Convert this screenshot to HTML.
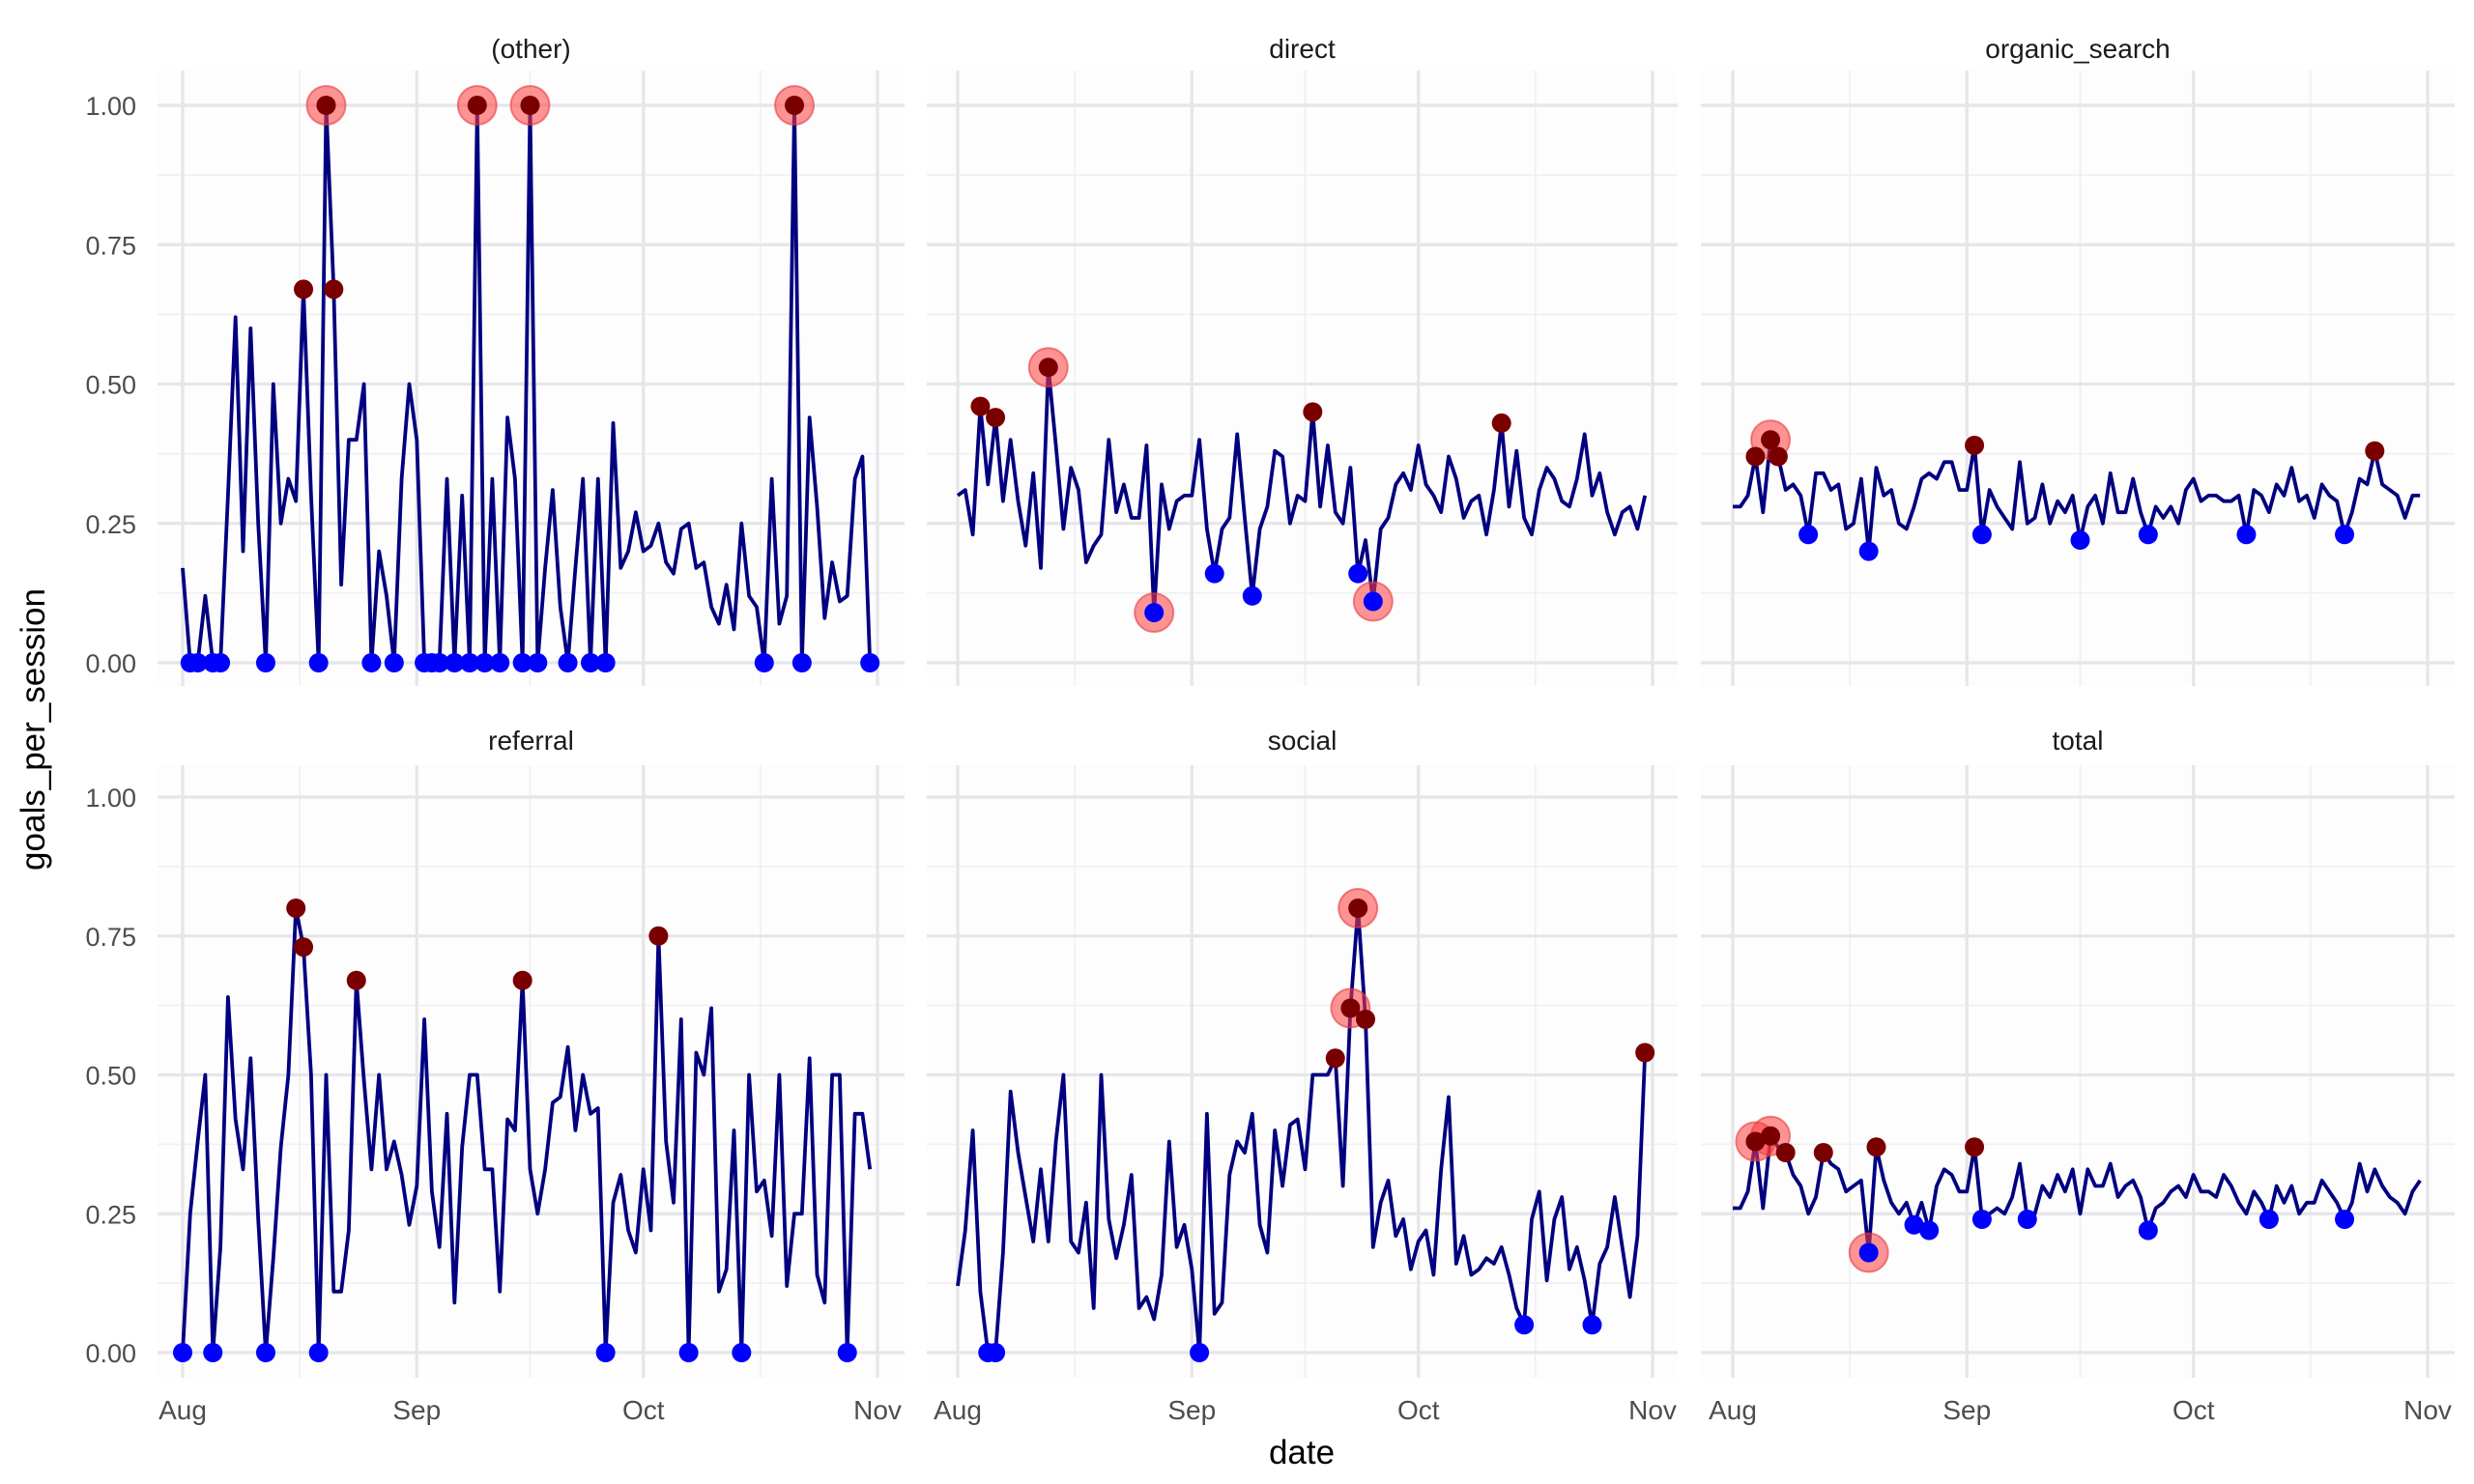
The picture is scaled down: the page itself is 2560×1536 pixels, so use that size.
<!DOCTYPE html>
<html><head><meta charset="utf-8"><style>
html,body{margin:0;padding:0;background:#fff;}
svg{display:block;font-family:"Liberation Sans",sans-serif;}
</style></head><body>
<svg id="chart" width="2560" height="1536" viewBox="0 0 2560 1536" xmlns="http://www.w3.org/2000/svg">
<rect x="0" y="0" width="2560" height="1536" fill="#ffffff"/>
<g id="panels"></g>
<text x="0" y="0" transform="translate(46,755) rotate(-90)" text-anchor="middle" font-size="35" fill="#000">goals_per_session</text>
<text x="1347" y="1515" text-anchor="middle" font-size="35" fill="#000">date</text>
</svg>
<script>
const panelNames = ["(other)","direct","organic_search","referral","social","total"];
const xTickLabels = ["Aug","Sep","Oct","Nov"];
const xTickDays = [0,31,61,92];
const yTicks = [0,0.25,0.5,0.75,1];
const yTickLabels = ["0.00","0.25","0.50","0.75","1.00"];

const valsOther = [0.17,0,0,0.12,0,0,0.3,0.62,0.2,0.6,0.25,0,0.5,0.25,0.33,0.29,0.67,0.3,0,1.0,0.67,0.14,0.4,0.4,0.5,0,0.2,0.12,0,0.33,0.5,0.4,0,0,0,0.33,0,0.3,0,1.0,0,0.33,0,0.44,0.33,0,1.0,0,0.17,0.31,0.1,0,0.17,0.33,0,0.33,0,0.43,0.17,0.2,0.27,0.2,0.21,0.25,0.18,0.16,0.24,0.25,0.17,0.18,0.1,0.07,0.14,0.06,0.25,0.12,0.1,0,0.33,0.07,0.12,1.0,0,0.44,0.28,0.08,0.18,0.11,0.12,0.33,0.37,0];
const valsDirect = [0.30,0.31,0.23,0.46,0.32,0.44,0.29,0.40,0.29,0.21,0.34,0.17,0.53,0.39,0.24,0.35,0.31,0.18,0.21,0.23,0.40,0.27,0.32,0.26,0.26,0.39,0.09,0.32,0.24,0.29,0.30,0.30,0.40,0.24,0.16,0.24,0.26,0.41,0.26,0.12,0.24,0.28,0.38,0.37,0.25,0.30,0.29,0.45,0.28,0.39,0.27,0.25,0.35,0.16,0.22,0.11,0.24,0.26,0.32,0.34,0.31,0.39,0.32,0.30,0.27,0.37,0.33,0.26,0.29,0.30,0.23,0.31,0.43,0.28,0.38,0.26,0.23,0.31,0.35,0.33,0.29,0.28,0.33,0.41,0.30,0.34,0.27,0.23,0.27,0.28,0.24,0.30];
const valsOrganic = [0.28,0.28,0.30,0.37,0.27,0.40,0.37,0.31,0.32,0.30,0.23,0.34,0.34,0.31,0.32,0.24,0.25,0.33,0.20,0.35,0.30,0.31,0.25,0.24,0.28,0.33,0.34,0.33,0.36,0.36,0.31,0.31,0.39,0.23,0.31,0.28,0.26,0.24,0.36,0.25,0.26,0.32,0.25,0.29,0.27,0.30,0.22,0.28,0.30,0.25,0.34,0.27,0.27,0.33,0.27,0.23,0.28,0.26,0.28,0.25,0.31,0.33,0.29,0.30,0.30,0.29,0.29,0.30,0.23,0.31,0.30,0.27,0.32,0.30,0.35,0.29,0.30,0.26,0.32,0.30,0.29,0.23,0.27,0.33,0.32,0.38,0.32,0.31,0.30,0.26,0.30,0.30];
const valsReferral = [0,0.25,0.38,0.50,0,0.19,0.64,0.42,0.33,0.53,0.24,0,0.17,0.37,0.50,0.80,0.73,0.50,0,0.50,0.11,0.11,0.22,0.67,0.49,0.33,0.50,0.33,0.38,0.32,0.23,0.30,0.60,0.29,0.19,0.43,0.09,0.37,0.50,0.50,0.33,0.33,0.11,0.42,0.40,0.67,0.33,0.25,0.33,0.45,0.46,0.55,0.40,0.50,0.43,0.44,0,0.27,0.32,0.22,0.18,0.33,0.22,0.75,0.38,0.27,0.60,0,0.54,0.50,0.62,0.11,0.15,0.40,0,0.50,0.29,0.31,0.21,0.50,0.12,0.25,0.25,0.53,0.14,0.09,0.50,0.50,0,0.43,0.43,0.33];
const valsSocial = [0.12,0.22,0.40,0.11,0,0,0.18,0.47,0.36,0.28,0.20,0.33,0.20,0.38,0.50,0.20,0.18,0.27,0.08,0.50,0.24,0.17,0.23,0.32,0.08,0.10,0.06,0.14,0.38,0.19,0.23,0.15,0,0.43,0.07,0.09,0.32,0.38,0.36,0.43,0.23,0.18,0.40,0.30,0.41,0.42,0.33,0.50,0.50,0.50,0.53,0.30,0.62,0.80,0.60,0.19,0.27,0.31,0.21,0.24,0.15,0.20,0.22,0.14,0.33,0.46,0.16,0.21,0.14,0.15,0.17,0.16,0.19,0.14,0.08,0.05,0.24,0.29,0.13,0.24,0.28,0.15,0.19,0.13,0.05,0.16,0.19,0.28,0.19,0.10,0.21,0.54];
const valsTotal = [0.26,0.26,0.29,0.38,0.26,0.39,0.37,0.36,0.32,0.30,0.25,0.28,0.36,0.34,0.33,0.29,0.30,0.31,0.18,0.37,0.31,0.27,0.25,0.27,0.23,0.27,0.22,0.30,0.33,0.32,0.29,0.29,0.37,0.24,0.25,0.26,0.25,0.28,0.34,0.24,0.25,0.30,0.28,0.32,0.29,0.33,0.25,0.33,0.30,0.30,0.34,0.28,0.30,0.31,0.28,0.22,0.26,0.27,0.29,0.30,0.28,0.32,0.29,0.29,0.28,0.32,0.30,0.27,0.25,0.29,0.27,0.24,0.30,0.27,0.30,0.25,0.27,0.27,0.31,0.29,0.27,0.24,0.27,0.34,0.29,0.33,0.30,0.28,0.27,0.25,0.29,0.31];

const highOther=[16,19,20,39,46,81], lowOther=[1,2,4,5,11,18,25,28,32,33,34,36,38,40,42,45,47,51,54,56,77,82,91], haloOther=[19,39,46,81];
const highDirect=[3,5,12,47,72], lowDirect=[26,34,39,53,55], haloDirect=[12,26,55];
const highOrganic=[3,5,6,32,85], lowOrganic=[10,18,33,46,55,68,81], haloOrganic=[5];
const highReferral=[15,16,23,45,63], lowReferral=[0,4,11,18,56,67,74,88], haloReferral=[];
const highSocial=[50,52,53,54,91], lowSocial=[4,5,32,75,84], haloSocial=[52,53];
const highTotal=[3,5,7,12,19,32], lowTotal=[18,24,26,33,39,55,71,81], haloTotal=[3,5,18];

const series=[valsOther,valsDirect,valsOrganic,valsReferral,valsSocial,valsTotal];
const highs=[highOther,highDirect,highOrganic,highReferral,highSocial,highTotal];
const lows=[lowOther,lowDirect,lowOrganic,lowReferral,lowSocial,lowTotal];
const halos=[haloOther,haloDirect,haloOrganic,haloReferral,haloSocial,haloTotal];

const NS="http://www.w3.org/2000/svg";
const root=document.getElementById("panels");
const colX0=[189,991,1793], colW=719;
const bgX=[163,959,1760], bgW=[773,777,780];
const rowY1=[109,825], rowY0=[686,1400];
const bgY=[73,792], bgH=[637,634];
function mk(tag,attrs,parent){const e=document.createElementNS(NS,tag);for(const k in attrs)e.setAttribute(k,attrs[k]);parent.appendChild(e);return e;}

for(let p=0;p<6;p++){
  const c=p%3, r=Math.floor(p/3);
  const xs=d=>colX0[c]+d/92*colW;
  const ys=v=>rowY0[r]-v*(rowY0[r]-rowY1[r]);
  const g=mk("g",{},root);
  
  
  const bg=mk("rect",{x:bgX[c],y:bgY[r],width:bgW[c],height:bgH[r],fill:"#fdfdfe"},g);
  
  
  for(let i=0;i<yTicks.length-1;i++){
    const v=(yTicks[i]+yTicks[i+1])/2;
    mk("line",{x1:bgX[c],x2:bgX[c]+bgW[c],y1:ys(v),y2:ys(v),stroke:"#efeff2","stroke-width":1.6},g);
  }
  for(let i=0;i<xTickDays.length-1;i++){
    const d=(xTickDays[i]+xTickDays[i+1])/2;
    mk("line",{x1:xs(d),x2:xs(d),y1:bgY[r],y2:bgY[r]+bgH[r],stroke:"#efeff2","stroke-width":1.6},g);
  }
  yTicks.forEach(v=>mk("line",{x1:bgX[c],x2:bgX[c]+bgW[c],y1:ys(v),y2:ys(v),stroke:"#e6e6ea","stroke-width":3.2},g));
  xTickDays.forEach(d=>mk("line",{x1:xs(d),x2:xs(d),y1:bgY[r],y2:bgY[r]+bgH[r],stroke:"#e6e6ea","stroke-width":3.2},g));
  const st=mk("text",{x:bgX[c]+bgW[c]/2,y:rowY1[r]-49,"text-anchor":"middle","font-size":28,fill:"#1a1a1a"},g);
  st.textContent=panelNames[p];
  
  
  if(c===0){
    yTicks.forEach((v,i)=>{const t=mk("text",{x:141,y:ys(v)+10,"text-anchor":"end","font-size":27,fill:"#4d4d4d"},g);t.textContent=yTickLabels[i];
      
      });
  }
  if(r===1){
    xTickDays.forEach((d,i)=>{const t=mk("text",{x:xs(d),y:1469,"text-anchor":"middle","font-size":28,fill:"#4d4d4d"},g);t.textContent=xTickLabels[i];
      
      });
  }
  const vals=series[p];
  const pts=vals.map((v,i)=>xs(i).toFixed(1)+","+ys(v).toFixed(1)).join(" ");
  const ln=mk("polyline",{points:pts,fill:"none",stroke:"#000080","stroke-width":3.8,"stroke-linejoin":"round"},g);
  
  
  halos[p].forEach(i=>{const h=mk("circle",{cx:xs(i),cy:ys(vals[i]),r:20,fill:"rgba(255,60,60,0.55)",stroke:"rgba(230,60,60,0.6)","stroke-width":2},g);
    
    });
  highs[p].forEach(i=>{const h=mk("circle",{cx:xs(i),cy:ys(vals[i]),r:10,fill:"#7a0000"},g);
    
    });
  lows[p].forEach(i=>{const h=mk("circle",{cx:xs(i),cy:ys(vals[i]),r:10,fill:"#0000ff"},g);
    
    });
}
</script>
</body></html>
